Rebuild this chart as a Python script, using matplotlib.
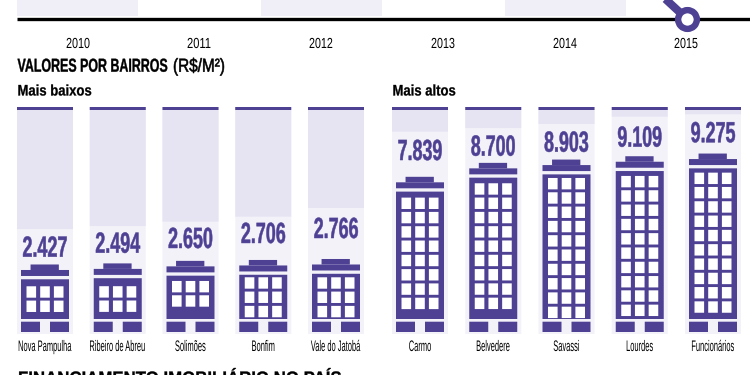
import matplotlib
matplotlib.use("Agg")
import matplotlib.pyplot as plt
from matplotlib.patheffects import AbstractPathEffect
from matplotlib.transforms import Affine2D

# ---- data
anos = ["2010", "2011", "2012", "2013", "2014", "2015"]
baixos_nomes = ["Nova Pampulha", "Ribeiro de Abreu", "Solimões", "Bonfim", "Vale do Jatobá"]
baixos_valores = [2427, 2494, 2650, 2706, 2766]
baixos_nivel = [4617, 4802, 5068, 5377, 5914]
baixos_andares = [2, 2, 2, 3, 3]
altos_nomes = ["Carmo", "Belvedere", "Savassi", "Lourdes", "Funcionários"]
altos_valores = [7839, 8700, 8903, 9109, 9275]
altos_nivel = [10623, 10850, 11100, 11550, 11700]
altos_andares = [8, 9, 10, 10, 10]
titulo = "VALORES POR BAIRROS"
unidade = "(R$/M²)"
proximo = "FINANCIAMENTO IMOBILIÁRIO NO PAÍS"

# ---- styles
ROXO = "#4e4194"
CLARO = "#e6e4f3"
CLARISSIMO = "#f3f2f9"
FONTE = ["Liberation Sans Narrow", "Liberation Sans", "DejaVu Sans"]
ESC = 0.0162        # pixels per R$
ZERO_PX = 303.8     # pixel row of R$ 0
TOP_PX, BASE_PX = 106.7, 334.0
W, H = 750, 375
CAP = 0.72          # cap height of the face, in em

fig = plt.figure(figsize=(W / 100, H / 100), dpi=100, facecolor="white")
ov = fig.add_axes([0, 0, 1, 1], zorder=5)
ov.set_xlim(0, W)
ov.set_ylim(H, 0)
ov.axis("off")
ov.patch.set_alpha(0)


class Tall(AbstractPathEffect):
    """Stretch a text upward from its baseline (the reference uses a condensed face)."""

    def __init__(self, text, sy, stroke):
        super().__init__()
        self.text, self.sy, self.stroke = text, sy, stroke

    def draw_path(self, renderer, gc, tpath, affine, rgbFace=None):
        cy = self.text.get_transform().transform(self.text.get_position())[1]
        t = Affine2D().translate(0, -cy).scale(1, self.sy).translate(0, cy)
        g = renderer.new_gc()
        g.copy_properties(gc)
        if self.stroke:
            g.set_linewidth(self.stroke)
            g.set_foreground(rgbFace)
        renderer.draw_path(g, tpath, affine + t, rgbFace)
        g.restore()


def txt(ax, x, y, s, cap, width=None, size=None, weight="normal", color="black", ha="center", stroke=0):
    """y is the baseline; cap is the cap height in px; width is the target text width in px."""
    t = ax.text(x, y, s, fontsize=size or 10, fontweight=weight, color=color, ha=ha, va="baseline",
                family=FONTE)
    if width is not None:
        nat = t.get_window_extent(fig.canvas.get_renderer()).width
        t.set_fontsize(10 * width / nat)
    sy = cap / (CAP * t.get_fontsize() * 100 / 72)
    t.set_path_effects([Tall(t, sy, stroke)])
    return t


# ---- strip of the chart above
for x0 in (17, 261, 505):
    ov.add_patch(plt.Rectangle((x0, 0), 120.5, 16, fc="#f0eff8", ec="none"))
ov.plot([17, 749.5], [18.5, 18.5], color="black", lw=2.4, solid_capstyle="butt")
ov.plot([660, 687], [-6, 19], color=ROXO, lw=5.8, solid_capstyle="butt")
ov.plot([687], [19], "o", ms=13.5, mfc="white", mec=ROXO, mew=4.6)
for x, a in zip((78, 199, 321, 443, 565, 686), anos):
    txt(ov, x, 48, a, 10.5, width=24)

# ---- headers
txt(ov, 17.5, 71.7, titulo, 13.5, width=150, weight="bold", ha="left", stroke=0.25)
txt(ov, 173, 71.7, unidade, 13.5, width=52, ha="left", stroke=0.4)
txt(ov, 17.5, 95.5, "Mais baixos", 11, width=74, weight="bold", ha="left", stroke=0.2)
txt(ov, 392.5, 95.5, "Mais altos", 11, width=63, weight="bold", ha="left", stroke=0.2)
txt(ov, 18, 384, proximo, 13, width=322, weight="bold", ha="left", stroke=0.25)


def v_of(px):
    return (ZERO_PX - px) / ESC


def painel(c0, passo, nomes, valores, nivel, andares, folgas, vaos):
    left = c0 - 0.5 * passo
    ax = fig.add_axes([left / W, 1 - BASE_PX / H, 5 * passo / W, (BASE_PX - TOP_PX) / H])
    ax.set_xlim(0, 5)
    ax.set_ylim(v_of(BASE_PX), v_of(TOP_PX))
    ax.axis("off")
    u = 1 / passo  # one pixel along x, in category units
    ymin, ymax = ax.get_ylim()

    def rect(xc, w, top_v, bot_v, color, z):
        for b in ax.bar(xc, top_v - bot_v, w * u, bottom=bot_v, color=color, lw=0, zorder=z):
            b.set_snap(False)

    for i, (val, niv, n, f, g) in enumerate(zip(valores, nivel, andares, folgas, vaos)):
        xc = i + 0.5
        rect(xc, 56, ymax, ymin, CLARISSIMO, 1)
        rect(xc, 56, ymax, niv, CLARO, 2)
        rect(xc, 56, ymax, v_of(TOP_PX + 3.3), ROXO, 3)
        rect(xc - 0.3 * u, 28.3, val, val - 5.5 / ESC, ROXO, 3)
        rect(xc, 48, val - 5.5 / ESC, val - 11.5 / ESC, ROXO, 3)
        body_top = val - 14.8 / ESC
        rect(xc, 48, body_top, v_of(319), ROXO, 3)
        for sgn in (-1, 1):
            rect(xc + sgn * 14.5 * u, 19, v_of(321.7), v_of(332), ROXO, 3)
        for r in range(n):
            wt = body_top - (g + r * 14.3) / ESC
            for k in (-1, 0, 1):
                rect(xc + k * 13.7 * u, 9.6, wt, wt - 11.4 / ESC, "white", 4)
        txt(ax, xc, val + (f - 10) / ESC, f"{val:,}".replace(",", "."), 21, width=45,
            weight="bold", color=ROXO, stroke=0.35)
    for i, nome in enumerate(nomes):
        txt(ov, left + (i + 0.5) * passo, 351, nome, 11, size=5.4)


painel(45, 72.75, baixos_nomes, baixos_valores, baixos_nivel, baixos_andares,
       [17.8, 20.7, 22.9, 27, 31], [7, 8, 5.3, 2.5, 3.5])
painel(420, 73.25, altos_nomes, altos_valores, altos_nivel, altos_andares,
       [26.8, 17.2, 17.9, 19.6, 21.3], [6, 5.6, 3.6, 4.9, 4.3])

fig.savefig("out.png", dpi=100)
